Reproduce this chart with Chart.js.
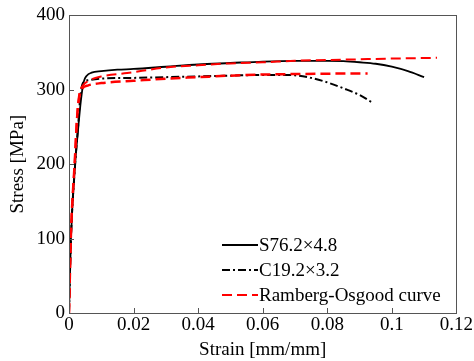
<!DOCTYPE html>
<html>
<head>
<meta charset="utf-8">
<script src="https://cdn.jsdelivr.net/npm/chart.js@4.4.1/dist/chart.umd.min.js"></script>
<style>
  html, body { margin:0; padding:0; background:#fff; }
  #wrap { width:474px; height:361px; }
</style>
</head>
<body>
<div id="wrap"><canvas id="c" width="474" height="361"></canvas></div>
<script>
// S76.2x4.8 test curve
const strainS = [0, 0.0006, 0.0019, 0.0028, 0.0037, 0.0045, 0.0055, 0.007, 0.01, 0.015, 0.02, 0.03, 0.04, 0.05, 0.06, 0.07, 0.08, 0.085, 0.09, 0.095, 0.1, 0.105, 0.11];
const stressS = [0, 100, 200, 246, 286, 310, 319, 323, 325, 327, 328, 331, 334, 336, 338, 339, 339, 338.5, 337, 335, 331, 325, 317];
// C19.2x3.2 test curve
const strainC = [0, 0.0006, 0.0019, 0.0028, 0.0035, 0.0043, 0.006, 0.01, 0.02, 0.03, 0.04, 0.05, 0.06, 0.065, 0.07, 0.075, 0.08, 0.085, 0.09, 0.0943];
const stressC = [0, 100, 200, 250, 290, 309, 313, 315, 316, 317, 318, 319, 320, 320, 319.5, 316, 310, 302, 293, 282];
// Ramberg-Osgood fits
const strainRO1 = [0, 0.0006, 0.0018, 0.0025, 0.0032, 0.004, 0.007, 0.01, 0.018, 0.03, 0.04, 0.05, 0.06, 0.07, 0.08, 0.09, 0.1, 0.114];
const stressRO1 = [0, 105, 205, 265, 295, 304, 314, 318, 322.5, 330, 333, 335.5, 337, 339, 340, 341, 342, 343];
const strainRO2 = [0, 0.0006, 0.0018, 0.0025, 0.0032, 0.004, 0.006, 0.01, 0.02, 0.03, 0.04, 0.05, 0.06, 0.07, 0.08, 0.0925];
const stressRO2 = [0, 105, 205, 262, 290, 301, 306, 309, 312, 315, 317, 319, 320.5, 321.2, 321.7, 322];

const xTicks = [0, 0.02, 0.04, 0.06, 0.08, 0.1, 0.12];
const yTicks = [0, 100, 200, 300, 400];
const legendNames = ['S76.2×4.8', 'C19.2×3.2', 'Ramberg-Osgood curve'];

const FONT = '"Liberation Serif", "DejaVu Serif", serif';
const pts = (xs, ys) => xs.map((x, i) => ({x: x, y: ys[i]}));

const frameAndLegend = {
    id: 'frameAndLegend',
    afterDraw: (chart) => {
        const {ctx, chartArea: a, scales} = chart;
        ctx.save();
        // frame
        ctx.strokeStyle = '#555'; ctx.lineWidth = 1;
        ctx.strokeRect(Math.round(a.left) + 0.5, Math.round(a.top) + 0.5, Math.round(a.right - a.left), Math.round(a.bottom - a.top));
        // inward ticks
        ctx.beginPath();
        xTicks.forEach(v => {
            const px = Math.round(scales.x.getPixelForValue(v)) + 0.5;
            ctx.moveTo(px, a.bottom); ctx.lineTo(px, a.bottom - 5);
        });
        yTicks.forEach(v => {
            const py = Math.round(scales.y.getPixelForValue(v)) + 0.5;
            ctx.moveTo(a.left, py); ctx.lineTo(a.left + 5, py);
        });
        ctx.stroke();
        // legend (one entry per style)
        const ds = chart.data.datasets;
        const entries = [ds[0], ds[1], ds[2]];
        let y0 = 245;
        entries.forEach((d, i) => {
            const y = y0 + i * 25;
            ctx.beginPath();
            ctx.setLineDash(d.borderDash || []);
            ctx.strokeStyle = d.borderColor; ctx.lineWidth = 2;
            ctx.moveTo(222, y); ctx.lineTo(258, y); ctx.stroke();
            ctx.setLineDash([]);
            ctx.fillStyle = '#000';
            ctx.font = '19px ' + FONT;
            ctx.textBaseline = 'middle';
            ctx.fillText(legendNames[i], 259, y + 1);
        });
        ctx.restore();
    }
};

new Chart(document.getElementById('c'), {
    type: 'line',
    data: {
        datasets: [
            { data: pts(strainS, stressS), borderColor:'#000', borderWidth:1.8, pointRadius:0, cubicInterpolationMode:'monotone', order:3 },
            { data: pts(strainC, stressC), borderColor:'#000', borderWidth:2, borderDash:[8,3,2,3], pointRadius:0, cubicInterpolationMode:'monotone', order:2 },
            { data: pts(strainRO1, stressRO1), borderColor:'#f00', borderWidth:2, borderDash:[10,5], pointRadius:0, cubicInterpolationMode:'monotone', order:1 },
            { data: pts(strainRO2, stressRO2), borderColor:'#f00', borderWidth:2.5, borderDash:[10,5], pointRadius:0, cubicInterpolationMode:'monotone', order:1 }
        ]
    },
    options: {
        responsive:false, animation:false,
        layout: { padding: { top: 15, right: 17, left: 0, bottom: 0 } },
        plugins: { legend:{display:false}, tooltip:{enabled:false} },
        scales: {
            x: {
                type:'linear', min:0, max:0.12,
                afterBuildTicks: (s) => { s.ticks = xTicks.map(v => ({value:v})); },
                afterFit: (s) => { s.height = 48; },
                grid: { display:false, drawTicks:false }, border: { display:false },
                ticks: { color:'#000', font:{family:FONT, size:19}, padding:1, maxRotation:0,
                         callback: (v) => String(+v.toFixed(2)) },
                title: { display:true, text:'Strain [mm/mm]', color:'#000', font:{family:FONT, size:19}, padding:{top:0, bottom:0} }
            },
            y: {
                min:0, max:400,
                afterBuildTicks: (s) => { s.ticks = yTicks.map(v => ({value:v})); },
                afterFit: (s) => { s.width = 69; },
                grid: { display:false, drawTicks:false }, border: { display:false },
                ticks: { color:'#000', font:{family:FONT, size:19}, padding:4 },
                title: { display:true, text:'Stress [MPa]', color:'#000', font:{family:FONT, size:19}, padding:{top:7, bottom:0} }
            }
        }
    },
    plugins: [frameAndLegend]
});
</script>
</body>
</html>
